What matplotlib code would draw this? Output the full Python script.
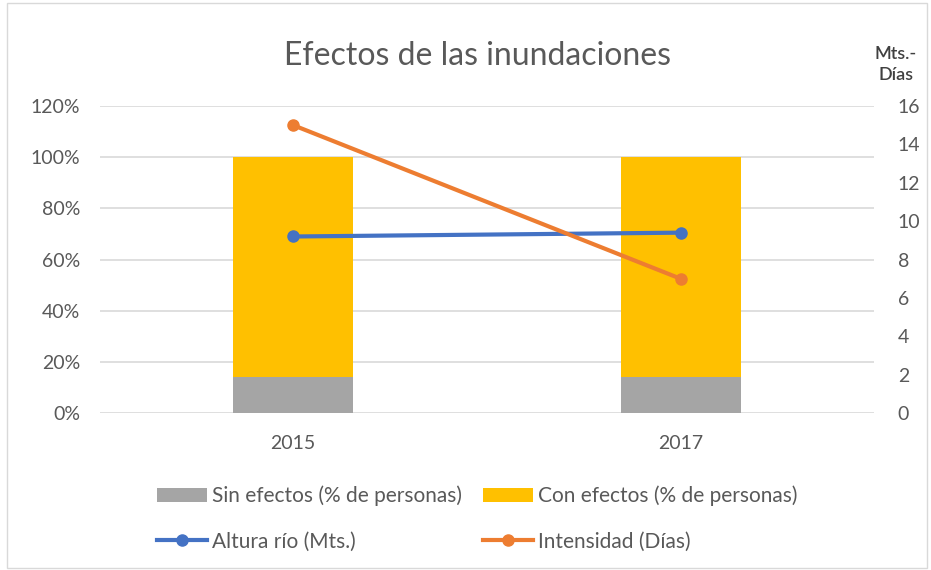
import matplotlib.pyplot as plt
from matplotlib.patches import Rectangle

plt.rcParams["font.family"] = ["Lato", "DejaVu Sans"]

years = ["2015", "2017"]
sin_efectos = [14, 14]
con_efectos = [86, 86]
altura_rio = [9.2, 9.4]
intensidad = [15, 7]

text_color = "#595959"
grid_color = "#D9D9D9"

fig = plt.figure(figsize=(9.31, 5.70), dpi=100)
ax = fig.add_axes([0.107, 0.2754, 0.832, 0.5386])
x = list(range(len(years)))

ax.bar(x, sin_efectos, width=0.31, color="#A5A5A5", label="Sin efectos (% de personas)", zorder=2)
ax.bar(x, con_efectos, width=0.31, bottom=sin_efectos, color="#FFC000",
       label="Con efectos (% de personas)", zorder=2)
ax.set_xlim(-0.5, 1.5)
ax.set_ylim(0, 120)
ax.set_yticks(range(0, 121, 20))
ax.set_yticklabels([f"{v}%" for v in range(0, 121, 20)])
ax.set_xticks(x)
ax.set_xticklabels(years)
ax.grid(axis="y", color=grid_color, linewidth=1.2, zorder=0)
ax.set_axisbelow(True)
for s in ax.spines.values():
    s.set_visible(False)
ax.tick_params(length=0, colors=text_color, labelsize=14)
ax.tick_params(axis="x", pad=16)
ax.tick_params(axis="y", pad=14)

ax2 = ax.twinx()
ax2.plot(x, altura_rio, color="#4472C4", linewidth=3, marker="o", markersize=8,
         label="Altura río (Mts.)", zorder=3)
ax2.plot(x, intensidad, color="#ED7D31", linewidth=3, marker="o", markersize=8,
         label="Intensidad (Días)", zorder=3)
ax2.set_ylim(0, 16)
ax2.set_yticks(range(0, 17, 2))
for s in ax2.spines.values():
    s.set_visible(False)
ax2.tick_params(length=0, colors=text_color, labelsize=14, pad=17)

fig.text(0.513, 0.902, "Efectos de las inundaciones", ha="center", va="center",
         fontsize=23, color=text_color)
fig.text(0.962, 0.887, "Mts.-\nDías", ha="center", va="center", fontsize=13,
         color="#404040", linespacing=1.35, fontweight="semibold")

h1, l1 = ax.get_legend_handles_labels()
h2, l2 = ax2.get_legend_handles_labels()
handles = [h1[0], h2[0], h1[1], h2[1]]
labels = [l1[0], l2[0], l1[1], l2[1]]
fig.legend(handles, labels, ncol=2, loc="center", bbox_to_anchor=(0.513, 0.09),
           frameon=False, fontsize=15, labelcolor=text_color, handlelength=2.4,
           handletextpad=0.25, columnspacing=1.0, labelspacing=1.2)

fig.patches.append(Rectangle((0.008, 0.004), 0.988, 0.99, transform=fig.transFigure,
                             fill=False, edgecolor="#D9D9D9", linewidth=1))

fig.savefig("out.png", dpi=100)
